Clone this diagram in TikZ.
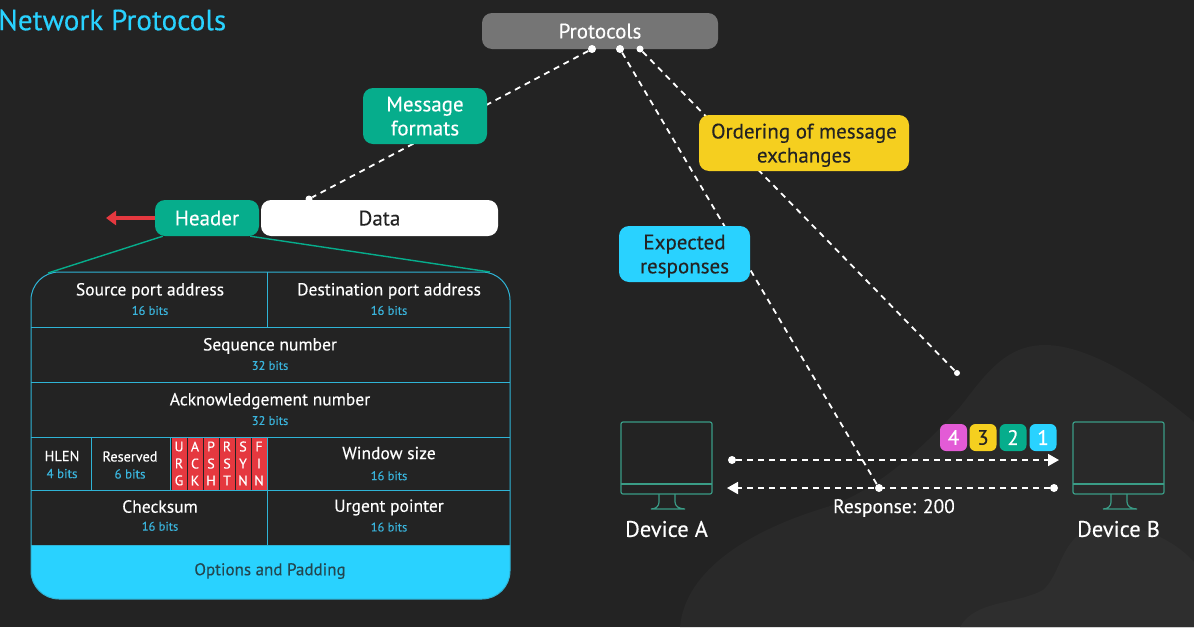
\documentclass[tikz,border=0pt]{standalone}
\usepackage{fontspec}
\setmainfont[FakeBold=0.25]{PT Sans}
\usetikzlibrary{arrows.meta}
\usetikzlibrary{backgrounds}
\usetikzlibrary{positioning}

\definecolor{bgdark}{HTML}{232323}
\definecolor{blobone}{HTML}{292929}
\definecolor{blobtwo}{HTML}{2E2E2E}
\definecolor{tealbox}{HTML}{06AD8C}
\definecolor{greybox}{HTML}{757575}
\definecolor{yellowbox}{HTML}{F5CF1F}
\definecolor{cyanbox}{HTML}{29D2FF}
\definecolor{pinkbox}{HTML}{E35BD6}
\definecolor{redflag}{HTML}{E5383F}
\definecolor{tableline}{HTML}{2FB4D6}
\definecolor{bitstext}{HTML}{3AB4DC}
\definecolor{monitorline}{HTML}{3A9C86}
\definecolor{darktext}{HTML}{232323}

\newcommand{\cell}[2]{{\fontsize{17.5}{20}\selectfont #1}\\[6pt]{\fontsize{12.5}{14}\selectfont\color{bitstext} #2}}

\tikzset{
	box/.style={rounded corners=10pt, inner sep=0pt, align=center, text depth=0pt, font=\fontsize{21}{24}\selectfont},
	cellnode/.style={text=white, align=center, inner sep=0pt},
	dot/.style={circle, fill=white, inner sep=0pt, minimum size=8pt},
	dashline/.style={white, line width=1.8pt, dash pattern=on 6pt off 5pt},
	flag/.style={fill=redflag, text=white, minimum width=15pt, minimum height=52pt, inner sep=0pt, align=center, font=\fontsize{14}{17}\selectfont},
	badge/.style={rounded corners=6pt, minimum width=27pt, minimum height=27pt, inner sep=0pt, font=\fontsize{21}{24}\selectfont},
	devicetext/.style={text=white, font=\fontsize{22.5}{25}\selectfont}
}

\begin{document}
\begin{tikzpicture}[x=1pt,y=-1pt]
	\useasboundingbox (0,0) rectangle (1194,627);
	\begin{scope}[on background layer]
		\fill[bgdark] (0,0) rectangle (1194,627);
		\fill[blobone] (680,627) .. controls (685,570) and (750,530) .. (827,507) .. controls (880,490) and (930,440) .. (960,407) .. controls (985,375) and (1005,345) .. (1045,345) .. controls (1090,345) and (1150,385) .. (1194,422) -- (1194,627) -- cycle;
		\fill[blobtwo] (960,627) .. controls (975,600) and (1015,605) .. (1043,590) .. controls (1060,575) and (1060,545) .. (1085,530) .. controls (1120,515) and (1170,535) .. (1194,562) -- (1194,627) -- cycle;
	\end{scope}

	% title
	\node[anchor=west, inner sep=0pt, font=\fontsize{29.2}{32}\selectfont, text=cyanbox] (title) at (-2,20) {Network Protocols};

	% boxes
	\node[box, fill=greybox, text=white, minimum width=236pt, minimum height=36pt] (protocols) at (600,31) {Protocols};
	\node[box, fill=tealbox, text=white, minimum width=124pt, minimum height=56pt] (message) at (425,116) {Message\\formats};
	\node[box, fill=yellowbox, text=darktext, minimum width=210pt, minimum height=56pt] (ordering) at (804,143) {Ordering of message\\exchanges};
	\node[box, fill=cyanbox, text=darktext, minimum width=131pt, minimum height=56pt] (expected) at (684.5,254) {Expected\\responses};
	\node[box, fill=tealbox, text=white, minimum width=104pt, minimum height=36pt] (header) at (207,218) {Header};
	\node[box, fill=white, text=darktext, minimum width=237pt, minimum height=36pt] (data) at (379.5,218) {Data};

	% table
	\fill[cyanbox] (31,545) -- (510,545) -- (510,571) arc (0:90:28) -- (59,599) arc (90:180:28) -- cycle;
	\draw[tableline, line width=1pt, rounded corners=28pt] (31,599) -- (31,272) -- (510,272) -- (510,599) -- cycle;
	\draw[tableline, line width=1pt] (31,327) -- (510,327) (31,382) -- (510,382) (31,437) -- (510,437) (31,490) -- (510,490) (31,545) -- (510,545);
	\draw[tableline, line width=1pt] (267.5,272) -- (267.5,327) (267.5,437) -- (267.5,545) (91,437) -- (91,490) (170,437) -- (170,490);

	\node[cellnode] (source) at (150,299) {\cell{Source port address}{16 bits}};
	\node[cellnode] (dest) at (389,299) {\cell{Destination port address}{16 bits}};
	\node[cellnode] (seq) at (270,354) {\cell{Sequence number}{32 bits}};
	\node[cellnode] (ack) at (270,409) {\cell{Acknowledgement number}{32 bits}};
	\node[cellnode] (hlen) at (62,464.5) {{\fontsize{14.5}{16}\selectfont HLEN}\\[5pt]{\fontsize{13}{15}\selectfont\color{bitstext} 4 bits}};
	\node[cellnode] (reserved) at (130,465) {{\fontsize{14.3}{16}\selectfont Reserved}\\[5pt]{\fontsize{13}{15}\selectfont\color{bitstext} 6 bits}};
	\node[cellnode] (window) at (389,463.5) {{\fontsize{17.5}{20}\selectfont Window size}\\[9pt]{\fontsize{12.5}{14}\selectfont\color{bitstext} 16 bits}};
	\node[cellnode] (checksum) at (160,515.5) {\cell{Checksum}{16 bits}};
	\node[cellnode] (urgent) at (389,515.5) {\cell{Urgent pointer}{16 bits}};
	\node[inner sep=0pt, text=darktext!80!cyanbox, font=\fontsize{17}{20}\selectfont] (options) at (270,571) {Options and Padding};

	% flags
	\node[flag] (urg) at (179,463.5) {U\\R\\G};
	\node[flag] (ackf) at (195,463.5) {A\\C\\K};
	\node[flag] (psh) at (211,463.5) {P\\S\\H};
	\node[flag] (rst) at (227,463.5) {R\\S\\T};
	\node[flag] (syn) at (243,463.5) {S\\Y\\N};
	\node[flag] (fin) at (259,463.5) {F\\I\\N};

	% header lead lines and arrow
	\coordinate (leadleft) at (48,273);
	\coordinate (leadright) at (490,272);
	\coordinate (redtip) at (106,218);
	\draw[tealbox, line width=1.4pt] (header.south west) ++(8,0) -- (leadleft);
	\draw[tealbox, line width=1.4pt] (header.south east) ++(-9,0) -- (leadright);
	\draw[redflag, line width=4.5pt, -{Triangle[length=10pt,width=14pt]}] (header.west) -- (redtip);

	% dots
	\node[dot] (pmsg) at (592,49) {};
	\node[dot] (pexp) at (620,49) {};
	\node[dot, minimum size=7pt] (pord) at (640,49) {};
	\node[dot, minimum size=7pt] (ddata) at (309,199) {};
	\node[dot, minimum size=6pt] (ordend) at (957,373) {};
	\node[dot] (resp) at (879,488) {};
	\node[dot] (reqstart) at (732,460) {};
	\node[dot] (respstart) at (1054,488) {};
	\coordinate (reqend) at (1059,460);
	\coordinate (respend) at (727,488);

	% connectors, behind the boxes
	\begin{scope}[on background layer]
		\draw[dashline] (pmsg) -- (ddata);
		\draw[dashline] (pexp) -- (resp);
		\draw[dashline] (pord) -- (ordend);
	\end{scope}
	\draw[dashline, -{Triangle[length=11pt,width=12pt,fill=white]}] (reqstart) -- (reqend);
	\draw[dashline, -{Triangle[length=11pt,width=12pt,fill=white]}] (respstart) -- (respend);

	% badges
	\node[badge, fill=pinkbox, text=white] (four) at (953.5,437.5) {4};
	\node[badge, fill=yellowbox, text=darktext] (three) at (983,437.5) {3};
	\node[badge, fill=tealbox, text=white] (two) at (1013,437.5) {2};
	\node[badge, fill=cyanbox, text=white] (one) at (1043,437.5) {1};

	% devices
	\foreach \mx/\mname in {621/A,1073/B}{
		\draw[monitorline, line width=1.2pt, rounded corners=2pt] (\mx,422) rectangle (\mx+91,494);
		\draw[monitorline, line width=1.2pt] (\mx,484) -- (\mx+91,484);
		\draw[monitorline, line width=1.2pt] (\mx+38,494) -- (\mx+38,502) .. controls (\mx+38,506) and (\mx+35,509) .. (\mx+30,509) -- (\mx+64,509) .. controls (\mx+58,509) and (\mx+54,506) .. (\mx+54,502) -- (\mx+54,494);
		\node[devicetext] (device\mname) at (\mx+45.5,529) {Device \mname};
	}
	\node[inner sep=0pt, text=white, font=\fontsize{19.5}{22}\selectfont] (response) at (894,508) {Response: 200};
\end{tikzpicture}
\end{document}
